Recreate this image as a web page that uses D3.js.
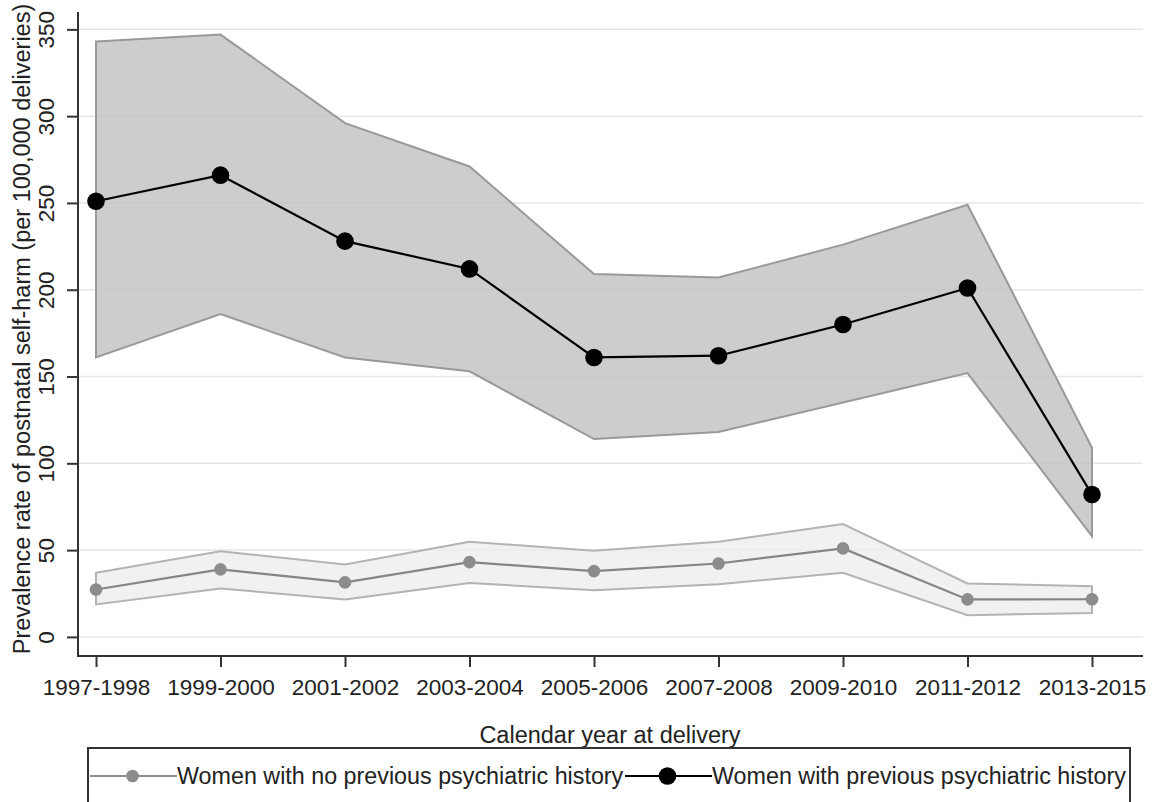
<!DOCTYPE html>
<html>
<head>
<meta charset="utf-8">
<script src="https://cdn.jsdelivr.net/npm/d3@7"></script>
<style>
html,body{margin:0;padding:0;background:#fff;}
svg{display:block;font-family:"Liberation Sans",Arial,sans-serif;}
</style>
</head>
<body>
<svg id="chart" width="1153" height="802"></svg>
<script>
const categories = ["1997-1998","1999-2000","2001-2002","2003-2004","2005-2006","2007-2008","2009-2010","2011-2012","2013-2015"];
// Women with previous psychiatric history
const prevRate  = [251, 266, 228, 212, 161, 162, 180, 201, 82];
const prevUpper = [343, 347, 296, 271, 209, 207, 226, 249, 109];
const prevLower = [161, 186, 161, 153, 114, 118, 135, 152, 58];
// Women with no previous psychiatric history
const noRate  = [27.3, 38.9, 31.4, 43.1, 37.9, 42.3, 51.0, 21.6, 21.7];
const noUpper = [36.9, 49.4, 41.7, 54.8, 49.6, 54.8, 65.0, 30.8, 29.2];
const noLower = [18.7, 27.9, 21.6, 31.1, 26.9, 30.4, 36.9, 12.5, 13.8];
const yTicks = [0, 50, 100, 150, 200, 250, 300, 350];
const legendLabels = ["Women with no previous psychiatric history", "Women with previous psychiatric history"];

(function () {
const svg = d3.select("#chart");
const pL = 78, pR = 1143, pT = 12, pB = 656;

const x = d3.scalePoint().domain(categories).range([96, 1092]);
const y = d3.scaleLinear().domain([-11, 360]).range([pB, pT]);

// gridlines
svg.append("g").selectAll("line").data(yTicks).join("line")
  .attr("x1", pL).attr("x2", pR)
  .attr("y1", d => y(d)).attr("y2", d => y(d))
  .attr("stroke", "#e6e6e6").attr("stroke-width", 1.5);

const mk = (r, u, l) => categories.map((c, i) => ({c, r: r[i], u: u[i], l: l[i]}));
const prev = mk(prevRate, prevUpper, prevLower);
const none = mk(noRate, noUpper, noLower);

const area = d3.area().x(d => x(d.c)).y0(d => y(d.l)).y1(d => y(d.u));
const line = d3.line().x(d => x(d.c)).y(d => y(d.r));

// bands
svg.append("path").datum(prev).attr("d", area)
  .attr("fill", "#c2c2c2").attr("fill-opacity", 0.82)
  .attr("stroke", "#999999").attr("stroke-width", 2);
svg.append("path").datum(none).attr("d", area)
  .attr("fill", "#eeeeee").attr("fill-opacity", 0.8)
  .attr("stroke", "#b3b3b3").attr("stroke-width", 2);

// lines
svg.append("path").datum(none).attr("d", line)
  .attr("fill", "none").attr("stroke", "#858585").attr("stroke-width", 2.2);
svg.append("g").selectAll("circle").data(none).join("circle")
  .attr("cx", d => x(d.c)).attr("cy", d => y(d.r)).attr("r", 6.3)
  .attr("fill", "#8c8c8c");

svg.append("path").datum(prev).attr("d", line)
  .attr("fill", "none").attr("stroke", "#000").attr("stroke-width", 2.2);
svg.append("g").selectAll("circle").data(prev).join("circle")
  .attr("cx", d => x(d.c)).attr("cy", d => y(d.r)).attr("r", 8.8)
  .attr("fill", "#000");

// axes
const axisColor = "#333";
const yAxis = svg.append("g").attr("transform", `translate(${pL},0)`)
  .call(d3.axisLeft(y).tickValues(yTicks).tickSize(11).tickPadding(0).tickFormat(d3.format("d")));
yAxis.select(".domain").attr("d", `M0,${pT}V${pB}`).attr("stroke", axisColor).attr("stroke-width", 2);
yAxis.selectAll(".tick line").attr("stroke", axisColor).attr("stroke-width", 2);
yAxis.selectAll(".tick text")
  .attr("x", null).attr("dy", null)
  .attr("transform", "translate(-24,0) rotate(-90)")
  .attr("text-anchor", "middle").attr("y", 0)
  .attr("font-size", 22.5).attr("fill", "#222").attr("font-family", "Liberation Sans, Arial, sans-serif");

const xAxis = svg.append("g").attr("transform", `translate(0,${pB})`)
  .call(d3.axisBottom(x).tickSize(11).tickPadding(0));
xAxis.select(".domain").attr("d", `M${pL - 1},0H${pR}`).attr("stroke", axisColor).attr("stroke-width", 2);
xAxis.selectAll(".tick line").attr("stroke", axisColor).attr("stroke-width", 2);
xAxis.selectAll(".tick text").attr("y", 39).attr("dy", null)
  .attr("font-size", 22.5).attr("fill", "#222").attr("font-family", "Liberation Sans, Arial, sans-serif");

// axis titles
svg.append("text").attr("x", 610).attr("y", 743).attr("text-anchor", "middle")
  .attr("font-size", 23.5).attr("fill", "#222").text("Calendar year at delivery");
svg.append("text").attr("transform", "translate(29.5,329) rotate(-90)").attr("text-anchor", "middle")
  .attr("font-size", 23.5).attr("fill", "#222")
  .text("Prevalence rate of postnatal self-harm (per 100,000 deliveries)");

// legend
const lg = svg.append("g");
lg.append("rect").attr("x", 88).attr("y", 748).attr("width", 1042).attr("height", 80)
  .attr("fill", "#fff").attr("stroke", "#333").attr("stroke-width", 2);
const keys = [
  {x0: 90, x1: 177, color: "#8c8c8c", r: 6.3, label: legendLabels[0]},
  {x0: 625, x1: 712, color: "#000", r: 8.8, label: legendLabels[1]}
];
keys.forEach(k => {
  lg.append("line").attr("x1", k.x0).attr("x2", k.x1).attr("y1", 776).attr("y2", 776)
    .attr("stroke", k.color).attr("stroke-width", 2.2);
  lg.append("circle").attr("cx", (k.x0 + k.x1) / 2 - 1).attr("cy", 776).attr("r", k.r).attr("fill", k.color);
  lg.append("text").attr("x", k.x1).attr("y", 784).attr("font-size", 23.3).attr("fill", "#222").text(k.label);
});
})();
</script>
</body>
</html>
